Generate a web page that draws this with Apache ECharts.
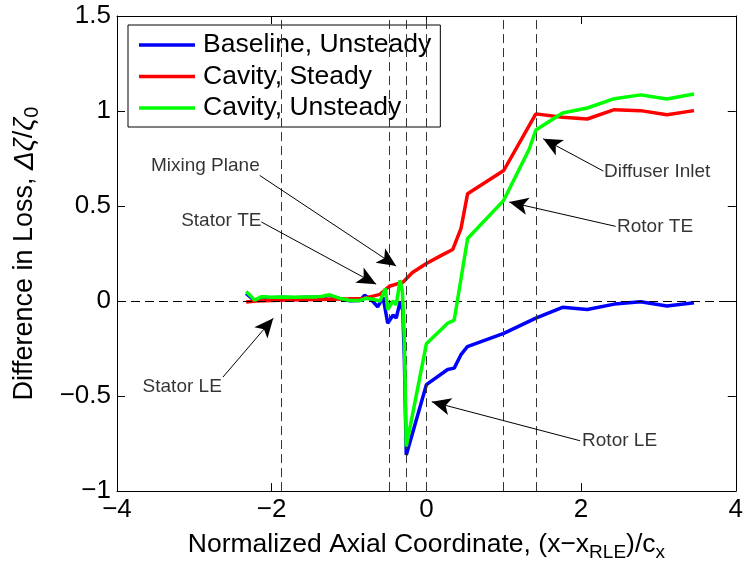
<!DOCTYPE html>
<html>
<head>
<meta charset="utf-8">
<script src="https://cdn.jsdelivr.net/npm/echarts@6/dist/echarts.min.js"></script>
<style>
  html, body { margin: 0; padding: 0; background: #fff; }
  #chart { width: 746px; height: 567px; }
</style>
</head>
<body>
<div id="chart"></div>
<script>
// Loss difference along the normalized axial coordinate
const baselineX = [-2.33, -2.22, -2.13, -2.0, -1.85, -1.7, -1.55, -1.42, -1.34, -1.25, -1.12, -0.99, -0.86, -0.8, -0.72, -0.63, -0.56, -0.5, -0.43, -0.39, -0.34, -0.305, -0.285, -0.26, 0.0, 0.275, 0.36, 0.45, 0.53, 1.0, 1.415, 1.76, 2.08, 2.43, 2.77, 3.11, 3.46];
const baselineY = [0.04, 0.0, 0.02, 0.018, 0.02, 0.018, 0.02, 0.02, 0.022, 0.03, 0.012, 0.002, 0.003, 0.03, 0.01, -0.03, 0.02, -0.117, -0.073, -0.09, -0.004, -0.05, -0.3, -0.81, -0.44, -0.36, -0.353, -0.28, -0.24, -0.17, -0.09, -0.033, -0.044, -0.016, -0.004, -0.026, -0.009];

const steadyX = [-2.33, -2.2, -2.0, -1.8, -1.6, -1.4, -1.2, -1.0, -0.82, -0.69, -0.6, -0.48, -0.3, -0.18, 0.0, 0.17, 0.34, 0.447, 0.533, 1.0, 1.415, 1.76, 2.08, 2.43, 2.77, 3.11, 3.46];
const steadyY = [-0.005, 0.0, 0.003, 0.005, 0.007, 0.008, 0.01, 0.012, 0.014, 0.026, 0.035, 0.078, 0.1, 0.15, 0.198, 0.235, 0.271, 0.381, 0.565, 0.687, 0.985, 0.967, 0.958, 1.007, 1.002, 0.98, 1.002];

const unsteadyX = [-2.33, -2.22, -2.13, -2.0, -1.85, -1.7, -1.55, -1.42, -1.34, -1.25, -1.12, -0.99, -0.86, -0.78, -0.69, -0.6, -0.53, -0.5, -0.43, -0.39, -0.34, -0.31, -0.285, -0.26, 0.0, 0.275, 0.36, 0.533, 1.0, 1.33, 1.415, 1.76, 2.08, 2.43, 2.77, 3.11, 3.46];
const unsteadyY = [0.05, 0.005, 0.023, 0.02, 0.022, 0.02, 0.022, 0.022, 0.025, 0.033, 0.014, 0.003, 0.003, 0.015, 0.009, 0.0, 0.067, -0.045, 0.0, -0.02, 0.11, 0.05, -0.2, -0.765, -0.225, -0.117, -0.1, 0.329, 0.53, 0.8, 0.9, 0.99, 1.016, 1.065, 1.085, 1.063, 1.09];

// Reference stations (vertical) and zero line (horizontal)
const stationX = [-1.87, -0.48, -0.26, 0, 1.0, 1.42];
const zeroY = [0];

// Annotation labels: text, anchor point, arrow tail and arrow head (data units)
const noteText = ['Mixing Plane', 'Stator TE', 'Stator LE', 'Rotor LE', 'Rotor TE', 'Diffuser Inlet'];
const noteSide = ['left', 'left', 'left', 'right', 'right', 'right'];
const noteAnchor = [[-2.155, 0.714], [-2.133, 0.42], [-2.645, -0.451], [2.013, -0.735], [2.465, 0.393], [2.297, 0.682]];
const arrowTail = [[-2.155, 0.661], [-2.133, 0.416], [-2.63, -0.40], [1.987, -0.735], [2.447, 0.393], [2.288, 0.684]];
const arrowHead = [[-0.391, 0.184], [-0.649, 0.089], [-1.98, -0.091], [0.07, -0.53], [1.071, 0.521], [1.51, 0.854]];

const xTickStep = 2, yTickStep = 0.5;

const FONT = '"Liberation Sans", Arial, Helvetica, sans-serif';
const minus = v => String(v).replace('-', '\u2212');
const zip = (xs, ys) => xs.map((x, i) => [x, ys[i]]);

const chart = echarts.init(document.getElementById('chart'), null, { renderer: 'canvas' });

const axisCommon = {
  type: 'value',
  axisLine: { show: true, onZero: false, lineStyle: { color: '#000', width: 1 } },
  axisTick: { show: true, inside: true, length: 8, lineStyle: { color: '#000', width: 1 } },
  splitLine: { show: false }
};

const lineSeries = (name, color, data, z) => ({
  name, type: 'line', data, z,
  showSymbol: false, symbol: 'none',
  lineStyle: { color, width: 3.5 },
  itemStyle: { color },
  animation: false
});

chart.setOption({
  animation: false,
  grid: { left: 117, right: 9, top: 16, bottom: 75 },
  xAxis: [
    Object.assign({}, axisCommon, {
      min: -4, max: 4, interval: xTickStep, position: 'bottom',
      axisLabel: { show: true, formatter: minus, color: '#000', fontSize: 26, fontFamily: FONT, margin: 6 },
      name: 'Normalized Axial Coordinate, (x\u2212x{sub|RLE})/c{sub|x}',
      nameLocation: 'middle', nameGap: 30,
      nameTextStyle: {
        color: '#000', fontSize: 26.5, fontFamily: FONT, lineHeight: 34,
        rich: { sub: { fontSize: 19, fontFamily: FONT, color: '#000', lineHeight: 19, verticalAlign: 'bottom' } }
      }
    }),
    Object.assign({}, axisCommon, {
      min: -4, max: 4, interval: xTickStep, position: 'top', axisLabel: { show: false }
    })
  ],
  yAxis: [
    Object.assign({}, axisCommon, {
      min: -1, max: 1.5, interval: yTickStep, position: 'left',
      axisLabel: { show: true, formatter: minus, color: '#000', fontSize: 26, fontFamily: FONT, margin: 6 },
      name: 'Difference in Loss, {g|\u0394\u03b6}/{g|\u03b6}{sub|0}',
      nameLocation: 'middle', nameGap: 75, nameRotate: 90,
      nameTextStyle: {
        color: '#000', fontSize: 27, fontFamily: FONT, lineHeight: 34,
        rich: {
          g: { fontSize: 28, fontStyle: 'italic', fontFamily: FONT, color: '#000', lineHeight: 34 },
          sub: { fontSize: 20, fontFamily: FONT, color: '#000', lineHeight: 20, verticalAlign: 'bottom' }
        }
      }
    }),
    Object.assign({}, axisCommon, {
      min: -1, max: 1.5, interval: yTickStep, position: 'right', axisLabel: { show: false }
    })
  ],
  legend: {
    data: ['Baseline, Unsteady', 'Cavity, Steady', 'Cavity, Unsteady'],
    orient: 'vertical', left: 128, top: 25,
    backgroundColor: '#fff', borderColor: '#000', borderWidth: 1, borderRadius: 0,
    padding: [5, 9, 4, 11],
    icon: 'rect', itemWidth: 56, itemHeight: 3.5, itemGap: 1.5,
    selectedMode: false,
    textStyle: { color: '#000', fontSize: 26.5, fontFamily: FONT, lineHeight: 30, padding: [0, 0, 0, 3] }
  },
  series: [
    {
      // dashed reference lines
      name: 'ref', type: 'line', data: [], z: 1, silent: true,
      markLine: {
        silent: true, symbol: 'none', animation: false,
        label: { show: false },
        data: stationX.map(x => ({ xAxis: x, lineStyle: { color: '#333', width: 1, type: [9, 5] } }))
          .concat(zeroY.map(y => ({ yAxis: y, lineStyle: { color: '#000', width: 1, type: [9, 5] } })))
      }
    },
    lineSeries('Baseline, Unsteady', '#0000ff', zip(baselineX, baselineY), 3),
    lineSeries('Cavity, Steady', '#ff0000', zip(steadyX, steadyY), 4),
    lineSeries('Cavity, Unsteady', '#00ff00', zip(unsteadyX, unsteadyY), 5),
    {
      // annotation text with arrows
      name: 'notes', type: 'scatter', z: 6, silent: true,
      symbolSize: 0,
      data: noteText.map((t, i) => ({
        value: noteAnchor[i],
        label: {
          show: true, formatter: t, position: noteSide[i], distance: 0,
          color: '#000', fontSize: 19, fontFamily: FONT
        }
      })),
      markLine: {
        silent: true, animation: false,
        symbol: ['none', 'arrow'], symbolSize: [13, 19],
        label: { show: false },
        lineStyle: { color: '#000', width: 1, type: 'solid' },
        itemStyle: { color: '#000' },
        data: arrowTail.map((p, i) => [{ coord: p }, { coord: arrowHead[i] }])
      }
    }
  ]
});
</script>
</body>
</html>
